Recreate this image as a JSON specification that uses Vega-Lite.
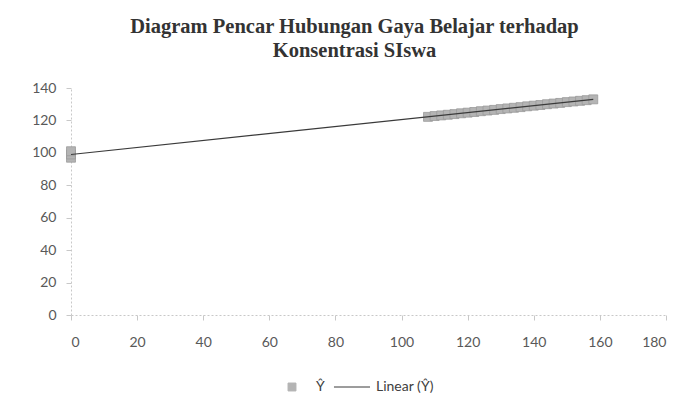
{
  "$schema": "https://vega.github.io/schema/vega-lite/v6.json",
  "width": 595,
  "height": 227,
  "autosize": {"type": "none"},
  "padding": {"left": 71, "top": 88, "right": 23, "bottom": 93},
  "background": "white",
  "title": {
    "text": ["Diagram Pencar Hubungan Gaya Belajar terhadap", "Konsentrasi SIswa"],
    "font": "Liberation Serif",
    "fontSize": 20.5,
    "fontWeight": "bold",
    "color": "#333333",
    "lineHeight": 24,
    "anchor": "middle",
    "dx": -14,
    "offset": 20
  },
  "config": {
    "view": {"stroke": null},
    "axis": {
      "labelFont": "Lato",
      "labelFontSize": 14,
      "labelColor": "#595959",
      "labelOverlap": false,
      "domainColor": "#c8c8c8",
      "domainDash": [2, 2],
      "tickColor": "#c8c8c8",
      "tickSize": 5,
      "grid": false,
      "title": null
    },
    "legend": {
      "title": null,
      "orient": "none",
      "direction": "horizontal",
      "legendX": 202,
      "legendY": 280,
      "labelFont": "Lato",
      "labelFontSize": 14,
      "labelColor": "#404040",
      "columnPadding": 6,
      "labelOffset": 5
    }
  },
  "data": {
    "values": [
      {"x": 0, "yhat": 97, "series": "Ŷ"},
      {"x": 0, "yhat": 99, "series": "Ŷ"},
      {"x": 0, "yhat": 101, "series": "Ŷ"},
      {"x": 108, "yhat": 122.2, "series": "Ŷ"},
      {"x": 110, "yhat": 122.7, "series": "Ŷ"},
      {"x": 112, "yhat": 123.1, "series": "Ŷ"},
      {"x": 114, "yhat": 123.5, "series": "Ŷ"},
      {"x": 116, "yhat": 123.9, "series": "Ŷ"},
      {"x": 118, "yhat": 124.4, "series": "Ŷ"},
      {"x": 120, "yhat": 124.8, "series": "Ŷ"},
      {"x": 122, "yhat": 125.2, "series": "Ŷ"},
      {"x": 124, "yhat": 125.7, "series": "Ŷ"},
      {"x": 126, "yhat": 126.1, "series": "Ŷ"},
      {"x": 128, "yhat": 126.5, "series": "Ŷ"},
      {"x": 130, "yhat": 127.0, "series": "Ŷ"},
      {"x": 132, "yhat": 127.4, "series": "Ŷ"},
      {"x": 134, "yhat": 127.8, "series": "Ŷ"},
      {"x": 136, "yhat": 128.2, "series": "Ŷ"},
      {"x": 138, "yhat": 128.7, "series": "Ŷ"},
      {"x": 140, "yhat": 129.1, "series": "Ŷ"},
      {"x": 142, "yhat": 129.5, "series": "Ŷ"},
      {"x": 144, "yhat": 130.0, "series": "Ŷ"},
      {"x": 146, "yhat": 130.4, "series": "Ŷ"},
      {"x": 148, "yhat": 130.8, "series": "Ŷ"},
      {"x": 150, "yhat": 131.3, "series": "Ŷ"},
      {"x": 152, "yhat": 131.7, "series": "Ŷ"},
      {"x": 154, "yhat": 132.1, "series": "Ŷ"},
      {"x": 156, "yhat": 132.5, "series": "Ŷ"},
      {"x": 158, "yhat": 133.0, "series": "Ŷ"}
    ]
  },
  "layer": [
    {
      "mark": {"type": "point", "shape": "square", "filled": true, "size": 80, "stroke": "#9a9a9a", "strokeWidth": 0.8, "opacity": 1},
      "encoding": {
        "x": {"field": "x", "type": "quantitative", "scale": {"domain": [0, 180], "nice": false}, "axis": {"values": [0, 20, 40, 60, 80, 100, 120, 140, 160, 180], "labelPadding": 15, "labelOverlap": false}},
        "y": {"field": "yhat", "type": "quantitative", "scale": {"domain": [0, 140], "nice": false}, "axis": {"values": [0, 20, 40, 60, 80, 100, 120, 140], "labelPadding": 10, "labelOverlap": false}},
        "color": {
          "field": "series",
          "type": "nominal",
          "scale": {"domain": ["Ŷ", "Linear (Ŷ)"], "range": ["#b4b4b4", "#3a3a3a"]},
          "legend": {
            "encode": {
              "symbols": {
                "update": {
                  "shape": {"signal": "datum.label === 'Ŷ' ? 'M-0.22,-0.22H0.22V0.22H-0.22Z' : 'stroke'"},
                  "size": {"value": 1300},
                  "fill": {"signal": "datum.label === 'Ŷ' ? '#b4b4b4' : 'transparent'"},
                  "stroke": {"signal": "datum.label === 'Ŷ' ? '#9a9a9a' : '#3a3a3a'"},
                  "strokeWidth": {"value": 1},
                  "opacity": {"value": 1}
                }
              }
            }
          }
        }
      }
    },
    {
      "transform": [{"regression": "yhat", "on": "x"}],
      "mark": {"type": "line", "strokeWidth": 1.2},
      "encoding": {
        "x": {"field": "x", "type": "quantitative", "axis": {"values": [0, 20, 40, 60, 80, 100, 120, 140, 160, 180], "labelPadding": 15, "labelOverlap": false}},
        "y": {"field": "yhat", "type": "quantitative", "axis": {"values": [0, 20, 40, 60, 80, 100, 120, 140], "labelPadding": 10, "labelOverlap": false}},
        "color": {
          "datum": "Linear (Ŷ)",
          "legend": {
            "encode": {
              "symbols": {
                "update": {
                  "shape": {"signal": "datum.label === 'Ŷ' ? 'M-0.22,-0.22H0.22V0.22H-0.22Z' : 'stroke'"},
                  "size": {"value": 1300},
                  "fill": {"signal": "datum.label === 'Ŷ' ? '#b4b4b4' : 'transparent'"},
                  "stroke": {"signal": "datum.label === 'Ŷ' ? '#9a9a9a' : '#3a3a3a'"},
                  "strokeWidth": {"value": 1},
                  "opacity": {"value": 1}
                }
              }
            }
          }
        }
      }
    }
  ]
}
